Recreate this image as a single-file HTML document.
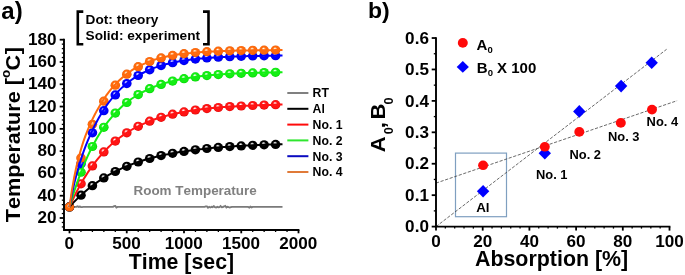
<!DOCTYPE html>
<html><head><meta charset="utf-8"><title>Figure</title>
<style>html,body{margin:0;padding:0;background:#fff}svg{display:block}text{font-family:"Liberation Sans",Arial,sans-serif;font-weight:bold;fill:#000;font-kerning:none}</style>
</head><body>
<svg width="685" height="275" viewBox="0 0 685 275">
<defs>
<radialGradient id="gorange" cx="0.5" cy="0.5" r="0.5" fx="0.42" fy="0.32"><stop offset="0" stop-color="#ffffff"/><stop offset="0.2" stop-color="#ffc890"/><stop offset="0.48" stop-color="#ff6a0d"/><stop offset="0.8" stop-color="#ff6a0d"/><stop offset="1" stop-color="#e85a00"/></radialGradient>
<radialGradient id="gblue" cx="0.5" cy="0.5" r="0.5" fx="0.42" fy="0.32"><stop offset="0" stop-color="#ffffff"/><stop offset="0.2" stop-color="#9a9aff"/><stop offset="0.48" stop-color="#0000ff"/><stop offset="0.8" stop-color="#0000ff"/><stop offset="1" stop-color="#0000d8"/></radialGradient>
<radialGradient id="ggreen" cx="0.5" cy="0.5" r="0.5" fx="0.42" fy="0.32"><stop offset="0" stop-color="#ffffff"/><stop offset="0.2" stop-color="#b4ffb4"/><stop offset="0.48" stop-color="#14ee14"/><stop offset="0.8" stop-color="#14ee14"/><stop offset="1" stop-color="#00d400"/></radialGradient>
<radialGradient id="gred" cx="0.5" cy="0.5" r="0.5" fx="0.42" fy="0.32"><stop offset="0" stop-color="#ffffff"/><stop offset="0.2" stop-color="#ffb0b0"/><stop offset="0.48" stop-color="#ff1414"/><stop offset="0.8" stop-color="#ff1414"/><stop offset="1" stop-color="#de0808"/></radialGradient>
<radialGradient id="gblack" cx="0.5" cy="0.5" r="0.5" fx="0.42" fy="0.32"><stop offset="0" stop-color="#ffffff"/><stop offset="0.2" stop-color="#b8b8b8"/><stop offset="0.48" stop-color="#000000"/><stop offset="0.8" stop-color="#000000"/><stop offset="1" stop-color="#000000"/></radialGradient>
</defs>
<rect width="685" height="275" fill="#fff"/>
<polyline fill="none" stroke="#7a7a7a" stroke-width="1.9" points="69.5,206.9 70.6,206.9 71.8,206.9 72.9,206.9 74.1,206.9 75.2,206.9 76.4,206.9 77.5,206.4 78.7,206.9 79.8,206.6 81.0,207.0 82.1,207.1 83.2,206.9 84.4,206.9 85.5,206.9 86.7,206.9 87.8,206.9 89.0,206.9 90.1,206.9 91.3,206.9 92.4,206.9 93.5,206.9 94.7,206.9 95.8,206.9 97.0,206.9 98.1,206.9 99.3,206.9 100.4,206.9 101.6,206.9 102.7,206.9 103.8,206.9 105.0,206.9 106.1,206.9 107.3,206.9 108.4,206.9 109.6,206.9 110.7,206.9 111.9,206.9 113.0,206.9 114.2,206.1 115.3,206.0 116.4,207.5 117.6,206.9 118.7,206.9 119.9,206.9 121.0,206.9 122.2,206.9 123.3,206.9 124.5,206.9 125.6,206.9 126.8,206.9 127.9,206.9 129.0,206.9 130.2,206.9 131.3,206.9 132.5,206.9 133.6,206.9 134.8,206.9 135.9,206.9 137.1,206.9 138.2,206.9 139.3,206.9 140.5,206.9 141.6,206.9 142.8,206.9 143.9,206.9 145.1,206.9 146.2,206.9 147.4,206.9 148.5,206.9 149.7,206.9 150.8,206.9 151.9,206.9 153.1,206.9 154.2,206.9 155.4,206.9 156.5,206.9 157.7,206.9 158.8,206.9 160.0,206.9 161.1,206.9 162.2,206.9 163.4,206.9 164.5,206.9 165.7,206.9 166.8,206.9 168.0,206.9 169.1,206.9 170.3,206.9 171.4,206.9 172.6,206.9 173.7,206.9 174.8,206.9 176.0,206.9 177.1,206.9 178.3,206.9 179.4,206.9 180.6,206.9 181.7,206.9 182.9,206.9 184.0,206.9 185.1,206.9 186.3,206.9 187.4,206.9 188.6,206.9 189.7,206.9 190.9,206.9 192.0,206.9 193.2,206.9 194.3,206.9 195.4,206.9 196.6,206.9 197.7,206.9 198.9,206.9 200.0,206.9 201.2,206.9 202.3,206.9 203.5,206.9 204.6,206.9 205.8,206.4 206.9,206.4 208.0,207.7 209.2,206.8 210.3,207.5 211.5,206.8 212.6,207.1 213.8,206.2 214.9,207.1 216.1,207.5 217.2,206.9 218.3,207.3 219.5,207.2 220.6,206.1 221.8,207.3 222.9,207.0 224.1,206.5 225.2,206.0 226.4,207.5 227.5,206.8 228.7,207.2 229.8,207.5 230.9,207.2 232.1,206.9 233.2,206.9 234.4,206.9 235.5,206.9 236.7,206.9 237.8,206.9 239.0,206.9 240.1,206.9 241.2,206.9 242.4,206.9 243.5,206.9 244.7,206.9 245.8,206.9 247.0,206.9 248.1,206.9 249.3,207.6 250.4,206.7 251.6,207.4 252.7,206.9 253.8,206.9 255.0,206.9 256.1,206.9 257.3,206.9 258.4,206.9 259.6,206.9 260.7,206.9 261.9,206.9 263.0,206.9 264.1,206.9 265.3,206.9 266.4,206.9 267.6,206.9 268.7,206.9 269.9,206.9 271.0,206.9 272.2,206.9 273.3,206.9 274.5,206.9 275.6,206.9 276.7,206.9 277.9,206.9 279.0,206.9 280.2,206.9 281.3,206.9 282.5,206.9"/>
<ellipse cx="69.5" cy="206.9" rx="4.8" ry="4.6" fill="url(#gblack)"/>
<ellipse cx="81.0" cy="195.2" rx="4.8" ry="4.6" fill="url(#gblack)"/>
<ellipse cx="92.4" cy="185.7" rx="4.8" ry="4.6" fill="url(#gblack)"/>
<ellipse cx="103.8" cy="177.9" rx="4.8" ry="4.6" fill="url(#gblack)"/>
<ellipse cx="115.3" cy="171.5" rx="4.8" ry="4.6" fill="url(#gblack)"/>
<ellipse cx="126.8" cy="166.3" rx="4.8" ry="4.6" fill="url(#gblack)"/>
<ellipse cx="138.2" cy="162.0" rx="4.8" ry="4.6" fill="url(#gblack)"/>
<ellipse cx="149.7" cy="158.5" rx="4.8" ry="4.6" fill="url(#gblack)"/>
<ellipse cx="161.1" cy="155.6" rx="4.8" ry="4.6" fill="url(#gblack)"/>
<ellipse cx="172.6" cy="153.3" rx="4.8" ry="4.6" fill="url(#gblack)"/>
<ellipse cx="184.0" cy="151.4" rx="4.8" ry="4.6" fill="url(#gblack)"/>
<ellipse cx="195.4" cy="149.8" rx="4.8" ry="4.6" fill="url(#gblack)"/>
<ellipse cx="206.9" cy="148.5" rx="4.8" ry="4.6" fill="url(#gblack)"/>
<ellipse cx="218.3" cy="147.4" rx="4.8" ry="4.6" fill="url(#gblack)"/>
<ellipse cx="229.8" cy="146.6" rx="4.8" ry="4.6" fill="url(#gblack)"/>
<ellipse cx="241.2" cy="145.9" rx="4.8" ry="4.6" fill="url(#gblack)"/>
<ellipse cx="252.7" cy="145.3" rx="4.8" ry="4.6" fill="url(#gblack)"/>
<ellipse cx="264.1" cy="144.8" rx="4.8" ry="4.6" fill="url(#gblack)"/>
<ellipse cx="275.6" cy="144.4" rx="4.8" ry="4.6" fill="url(#gblack)"/>
<ellipse cx="69.5" cy="206.9" rx="4.8" ry="4.6" fill="url(#gred)"/>
<ellipse cx="81.0" cy="183.8" rx="4.8" ry="4.6" fill="url(#gred)"/>
<ellipse cx="92.4" cy="165.9" rx="4.8" ry="4.6" fill="url(#gred)"/>
<ellipse cx="103.8" cy="151.9" rx="4.8" ry="4.6" fill="url(#gred)"/>
<ellipse cx="115.3" cy="141.1" rx="4.8" ry="4.6" fill="url(#gred)"/>
<ellipse cx="126.8" cy="132.8" rx="4.8" ry="4.6" fill="url(#gred)"/>
<ellipse cx="138.2" cy="126.3" rx="4.8" ry="4.6" fill="url(#gred)"/>
<ellipse cx="149.7" cy="121.2" rx="4.8" ry="4.6" fill="url(#gred)"/>
<ellipse cx="161.1" cy="117.3" rx="4.8" ry="4.6" fill="url(#gred)"/>
<ellipse cx="172.6" cy="114.2" rx="4.8" ry="4.6" fill="url(#gred)"/>
<ellipse cx="184.0" cy="111.9" rx="4.8" ry="4.6" fill="url(#gred)"/>
<ellipse cx="195.4" cy="110.0" rx="4.8" ry="4.6" fill="url(#gred)"/>
<ellipse cx="206.9" cy="108.6" rx="4.8" ry="4.6" fill="url(#gred)"/>
<ellipse cx="218.3" cy="107.5" rx="4.8" ry="4.6" fill="url(#gred)"/>
<ellipse cx="229.8" cy="106.6" rx="4.8" ry="4.6" fill="url(#gred)"/>
<ellipse cx="241.2" cy="106.0" rx="4.8" ry="4.6" fill="url(#gred)"/>
<ellipse cx="252.7" cy="105.5" rx="4.8" ry="4.6" fill="url(#gred)"/>
<ellipse cx="264.1" cy="105.1" rx="4.8" ry="4.6" fill="url(#gred)"/>
<ellipse cx="275.6" cy="104.7" rx="4.8" ry="4.6" fill="url(#gred)"/>
<ellipse cx="69.5" cy="206.9" rx="4.8" ry="4.6" fill="url(#ggreen)"/>
<ellipse cx="81.0" cy="172.2" rx="4.8" ry="4.6" fill="url(#ggreen)"/>
<ellipse cx="92.4" cy="146.5" rx="4.8" ry="4.6" fill="url(#ggreen)"/>
<ellipse cx="103.8" cy="127.3" rx="4.8" ry="4.6" fill="url(#ggreen)"/>
<ellipse cx="115.3" cy="113.1" rx="4.8" ry="4.6" fill="url(#ggreen)"/>
<ellipse cx="126.8" cy="102.5" rx="4.8" ry="4.6" fill="url(#ggreen)"/>
<ellipse cx="138.2" cy="94.6" rx="4.8" ry="4.6" fill="url(#ggreen)"/>
<ellipse cx="149.7" cy="88.7" rx="4.8" ry="4.6" fill="url(#ggreen)"/>
<ellipse cx="161.1" cy="84.4" rx="4.8" ry="4.6" fill="url(#ggreen)"/>
<ellipse cx="172.6" cy="81.1" rx="4.8" ry="4.6" fill="url(#ggreen)"/>
<ellipse cx="184.0" cy="78.7" rx="4.8" ry="4.6" fill="url(#ggreen)"/>
<ellipse cx="195.4" cy="76.9" rx="4.8" ry="4.6" fill="url(#ggreen)"/>
<ellipse cx="206.9" cy="75.6" rx="4.8" ry="4.6" fill="url(#ggreen)"/>
<ellipse cx="218.3" cy="74.6" rx="4.8" ry="4.6" fill="url(#ggreen)"/>
<ellipse cx="229.8" cy="73.8" rx="4.8" ry="4.6" fill="url(#ggreen)"/>
<ellipse cx="241.2" cy="73.3" rx="4.8" ry="4.6" fill="url(#ggreen)"/>
<ellipse cx="252.7" cy="72.9" rx="4.8" ry="4.6" fill="url(#ggreen)"/>
<ellipse cx="264.1" cy="72.6" rx="4.8" ry="4.6" fill="url(#ggreen)"/>
<ellipse cx="275.6" cy="72.3" rx="4.8" ry="4.6" fill="url(#ggreen)"/>
<ellipse cx="69.5" cy="206.9" rx="4.8" ry="4.6" fill="url(#gblue)"/>
<ellipse cx="81.0" cy="163.7" rx="4.8" ry="4.6" fill="url(#gblue)"/>
<ellipse cx="92.4" cy="132.8" rx="4.8" ry="4.6" fill="url(#gblue)"/>
<ellipse cx="103.8" cy="110.7" rx="4.8" ry="4.6" fill="url(#gblue)"/>
<ellipse cx="115.3" cy="94.9" rx="4.8" ry="4.6" fill="url(#gblue)"/>
<ellipse cx="126.8" cy="83.6" rx="4.8" ry="4.6" fill="url(#gblue)"/>
<ellipse cx="138.2" cy="75.5" rx="4.8" ry="4.6" fill="url(#gblue)"/>
<ellipse cx="149.7" cy="69.8" rx="4.8" ry="4.6" fill="url(#gblue)"/>
<ellipse cx="161.1" cy="65.6" rx="4.8" ry="4.6" fill="url(#gblue)"/>
<ellipse cx="172.6" cy="62.7" rx="4.8" ry="4.6" fill="url(#gblue)"/>
<ellipse cx="184.0" cy="60.6" rx="4.8" ry="4.6" fill="url(#gblue)"/>
<ellipse cx="195.4" cy="59.1" rx="4.8" ry="4.6" fill="url(#gblue)"/>
<ellipse cx="206.9" cy="58.0" rx="4.8" ry="4.6" fill="url(#gblue)"/>
<ellipse cx="218.3" cy="57.2" rx="4.8" ry="4.6" fill="url(#gblue)"/>
<ellipse cx="229.8" cy="56.7" rx="4.8" ry="4.6" fill="url(#gblue)"/>
<ellipse cx="241.2" cy="56.3" rx="4.8" ry="4.6" fill="url(#gblue)"/>
<ellipse cx="252.7" cy="56.0" rx="4.8" ry="4.6" fill="url(#gblue)"/>
<ellipse cx="264.1" cy="55.8" rx="4.8" ry="4.6" fill="url(#gblue)"/>
<ellipse cx="275.6" cy="55.7" rx="4.8" ry="4.6" fill="url(#gblue)"/>
<ellipse cx="69.5" cy="206.9" rx="4.8" ry="4.6" fill="url(#gorange)"/>
<ellipse cx="81.0" cy="158.0" rx="4.8" ry="4.6" fill="url(#gorange)"/>
<ellipse cx="92.4" cy="124.3" rx="4.8" ry="4.6" fill="url(#gorange)"/>
<ellipse cx="103.8" cy="101.2" rx="4.8" ry="4.6" fill="url(#gorange)"/>
<ellipse cx="115.3" cy="85.2" rx="4.8" ry="4.6" fill="url(#gorange)"/>
<ellipse cx="126.8" cy="74.2" rx="4.8" ry="4.6" fill="url(#gorange)"/>
<ellipse cx="138.2" cy="66.7" rx="4.8" ry="4.6" fill="url(#gorange)"/>
<ellipse cx="149.7" cy="61.5" rx="4.8" ry="4.6" fill="url(#gorange)"/>
<ellipse cx="161.1" cy="57.9" rx="4.8" ry="4.6" fill="url(#gorange)"/>
<ellipse cx="172.6" cy="55.4" rx="4.8" ry="4.6" fill="url(#gorange)"/>
<ellipse cx="184.0" cy="53.7" rx="4.8" ry="4.6" fill="url(#gorange)"/>
<ellipse cx="195.4" cy="52.5" rx="4.8" ry="4.6" fill="url(#gorange)"/>
<ellipse cx="206.9" cy="51.7" rx="4.8" ry="4.6" fill="url(#gorange)"/>
<ellipse cx="218.3" cy="51.2" rx="4.8" ry="4.6" fill="url(#gorange)"/>
<ellipse cx="229.8" cy="50.8" rx="4.8" ry="4.6" fill="url(#gorange)"/>
<ellipse cx="241.2" cy="50.5" rx="4.8" ry="4.6" fill="url(#gorange)"/>
<ellipse cx="252.7" cy="50.3" rx="4.8" ry="4.6" fill="url(#gorange)"/>
<ellipse cx="264.1" cy="50.2" rx="4.8" ry="4.6" fill="url(#gorange)"/>
<ellipse cx="275.6" cy="50.1" rx="4.8" ry="4.6" fill="url(#gorange)"/>
<polyline fill="none" stroke="#000000" stroke-width="2" stroke-linejoin="round" points="69.5,206.9 71.8,204.3 74.1,201.9 76.4,199.6 78.7,197.4 81.0,195.2 83.2,193.2 85.5,191.2 87.8,189.3 90.1,187.5 92.4,185.7 94.7,184.0 97.0,182.4 99.3,180.8 101.6,179.3 103.8,177.9 106.1,176.5 108.4,175.2 110.7,173.9 113.0,172.7 115.3,171.5 117.6,170.4 119.9,169.3 122.2,168.2 124.5,167.2 126.8,166.3 129.0,165.4 131.3,164.5 133.6,163.6 135.9,162.8 138.2,162.0 140.5,161.2 142.8,160.5 145.1,159.8 147.4,159.1 149.7,158.5 151.9,157.9 154.2,157.3 156.5,156.7 158.8,156.2 161.1,155.6 163.4,155.1 165.7,154.6 168.0,154.2 170.3,153.7 172.6,153.3 174.8,152.9 177.1,152.5 179.4,152.1 181.7,151.7 184.0,151.4 186.3,151.0 188.6,150.7 190.9,150.4 193.2,150.1 195.4,149.8 197.7,149.5 200.0,149.2 202.3,149.0 204.6,148.7 206.9,148.5 209.2,148.3 211.5,148.0 213.8,147.8 216.1,147.6 218.3,147.4 220.6,147.2 222.9,147.1 225.2,146.9 227.5,146.7 229.8,146.6 232.1,146.4 234.4,146.3 236.7,146.1 239.0,146.0 241.2,145.9 243.5,145.7 245.8,145.6 248.1,145.5 250.4,145.4 252.7,145.3 255.0,145.2 257.3,145.1 259.6,145.0 261.9,144.9 264.1,144.8 266.4,144.7 268.7,144.6 271.0,144.6 273.3,144.5 275.6,144.4 277.9,144.4 280.2,144.3 282.5,144.2"/>
<polyline fill="none" stroke="#ff1414" stroke-width="2" stroke-linejoin="round" points="69.5,206.9 71.8,201.8 74.1,196.9 76.4,192.3 78.7,187.9 81.0,183.8 83.2,179.8 85.5,176.1 87.8,172.5 90.1,169.1 92.4,165.9 94.7,162.8 97.0,159.9 99.3,157.1 101.6,154.5 103.8,151.9 106.1,149.6 108.4,147.3 110.7,145.1 113.0,143.1 115.3,141.1 117.6,139.3 119.9,137.5 122.2,135.9 124.5,134.3 126.8,132.8 129.0,131.3 131.3,130.0 133.6,128.7 135.9,127.4 138.2,126.3 140.5,125.1 142.8,124.1 145.1,123.1 147.4,122.1 149.7,121.2 151.9,120.3 154.2,119.5 156.5,118.7 158.8,118.0 161.1,117.3 163.4,116.6 165.7,116.0 168.0,115.4 170.3,114.8 172.6,114.2 174.8,113.7 177.1,113.2 179.4,112.7 181.7,112.3 184.0,111.9 186.3,111.5 188.6,111.1 190.9,110.7 193.2,110.4 195.4,110.0 197.7,109.7 200.0,109.4 202.3,109.1 204.6,108.9 206.9,108.6 209.2,108.4 211.5,108.1 213.8,107.9 216.1,107.7 218.3,107.5 220.6,107.3 222.9,107.1 225.2,107.0 227.5,106.8 229.8,106.6 232.1,106.5 234.4,106.4 236.7,106.2 239.0,106.1 241.2,106.0 243.5,105.9 245.8,105.8 248.1,105.7 250.4,105.6 252.7,105.5 255.0,105.4 257.3,105.3 259.6,105.2 261.9,105.1 264.1,105.1 266.4,105.0 268.7,104.9 271.0,104.9 273.3,104.8 275.6,104.7 277.9,104.7 280.2,104.6 282.5,104.6"/>
<polyline fill="none" stroke="#14ee14" stroke-width="2" stroke-linejoin="round" points="69.5,206.9 71.8,199.1 74.1,191.8 76.4,184.9 78.7,178.4 81.0,172.2 83.2,166.5 85.5,161.0 87.8,155.9 90.1,151.0 92.4,146.5 94.7,142.2 97.0,138.1 99.3,134.3 101.6,130.7 103.8,127.3 106.1,124.1 108.4,121.1 110.7,118.3 113.0,115.6 115.3,113.1 117.6,110.7 119.9,108.5 122.2,106.3 124.5,104.3 126.8,102.5 129.0,100.7 131.3,99.0 133.6,97.5 135.9,96.0 138.2,94.6 140.5,93.3 142.8,92.0 145.1,90.9 147.4,89.8 149.7,88.7 151.9,87.7 154.2,86.8 156.5,85.9 158.8,85.1 161.1,84.4 163.4,83.6 165.7,82.9 168.0,82.3 170.3,81.7 172.6,81.1 174.8,80.6 177.1,80.1 179.4,79.6 181.7,79.1 184.0,78.7 186.3,78.3 188.6,77.9 190.9,77.6 193.2,77.2 195.4,76.9 197.7,76.6 200.0,76.3 202.3,76.0 204.6,75.8 206.9,75.6 209.2,75.3 211.5,75.1 213.8,74.9 216.1,74.7 218.3,74.6 220.6,74.4 222.9,74.2 225.2,74.1 227.5,74.0 229.8,73.8 232.1,73.7 234.4,73.6 236.7,73.5 239.0,73.4 241.2,73.3 243.5,73.2 245.8,73.1 248.1,73.0 250.4,72.9 252.7,72.9 255.0,72.8 257.3,72.7 259.6,72.7 261.9,72.6 264.1,72.6 266.4,72.5 268.7,72.5 271.0,72.4 273.3,72.4 275.6,72.3 277.9,72.3 280.2,72.3 282.5,72.2"/>
<polyline fill="none" stroke="#0000ff" stroke-width="2" stroke-linejoin="round" points="69.5,206.9 71.8,194.7 74.1,184.1 76.4,174.9 78.7,166.7 81.0,159.3 83.2,152.6 85.5,146.4 87.8,140.6 90.1,135.3 92.4,130.3 94.7,125.6 97.0,121.2 99.3,117.1 101.6,113.2 103.8,109.6 106.1,106.2 108.4,103.0 110.7,100.0 113.0,97.1 115.3,94.5 117.6,92.0 119.9,89.6 122.2,87.4 124.5,85.4 126.8,83.5 129.0,81.6 131.3,80.0 133.6,78.4 135.9,76.9 138.2,75.5 140.5,74.2 142.8,73.0 145.1,71.8 147.4,70.7 149.7,69.7 151.9,68.8 154.2,67.9 156.5,67.1 158.8,66.4 161.1,65.6 163.4,65.0 165.7,64.3 168.0,63.8 170.3,63.2 172.6,62.7 174.8,62.2 177.1,61.8 179.4,61.3 181.7,61.0 184.0,60.6 186.3,60.2 188.6,59.9 190.9,59.6 193.2,59.3 195.4,59.1 197.7,58.8 200.0,58.6 202.3,58.4 204.6,58.2 206.9,58.0 209.2,57.8 211.5,57.7 213.8,57.5 216.1,57.4 218.3,57.2 220.6,57.1 222.9,57.0 225.2,56.9 227.5,56.8 229.8,56.7 232.1,56.6 234.4,56.5 236.7,56.4 239.0,56.4 241.2,56.3 243.5,56.2 245.8,56.2 248.1,56.1 250.4,56.1 252.7,56.0 255.0,56.0 257.3,55.9 259.6,55.9 261.9,55.8 264.1,55.8 266.4,55.8 268.7,55.7 271.0,55.7 273.3,55.7 275.6,55.7 277.9,55.6 280.2,55.6 282.5,55.6"/>
<polyline fill="none" stroke="#ff6a0d" stroke-width="2" stroke-linejoin="round" points="69.5,206.9 71.8,190.9 74.1,177.8 76.4,166.8 78.7,157.4 81.0,149.3 83.2,142.1 85.5,135.6 87.8,129.8 90.1,124.4 92.4,119.4 94.7,114.7 97.0,110.4 99.3,106.4 101.6,102.6 103.8,99.0 106.1,95.7 108.4,92.6 110.7,89.7 113.0,87.0 115.3,84.4 117.6,82.0 119.9,79.8 122.2,77.7 124.5,75.8 126.8,73.9 129.0,72.3 131.3,70.7 133.6,69.2 135.9,67.8 138.2,66.6 140.5,65.4 142.8,64.3 145.1,63.3 147.4,62.3 149.7,61.4 151.9,60.6 154.2,59.8 156.5,59.1 158.8,58.5 161.1,57.9 163.4,57.3 165.7,56.8 168.0,56.3 170.3,55.8 172.6,55.4 174.8,55.0 177.1,54.6 179.4,54.3 181.7,54.0 184.0,53.7 186.3,53.4 188.6,53.2 190.9,53.0 193.2,52.7 195.4,52.5 197.7,52.4 200.0,52.2 202.3,52.0 204.6,51.9 206.9,51.7 209.2,51.6 211.5,51.5 213.8,51.4 216.1,51.3 218.3,51.2 220.6,51.1 222.9,51.0 225.2,50.9 227.5,50.9 229.8,50.8 232.1,50.7 234.4,50.7 236.7,50.6 239.0,50.6 241.2,50.5 243.5,50.5 245.8,50.4 248.1,50.4 250.4,50.4 252.7,50.3 255.0,50.3 257.3,50.3 259.6,50.3 261.9,50.2 264.1,50.2 266.4,50.2 268.7,50.2 271.0,50.2 273.3,50.2 275.6,50.1 277.9,50.1 280.2,50.1 282.5,50.1"/>
<path d="M64.0,38.7 V230.0 H299.4" fill="none" stroke="#000" stroke-width="1.9"/>
<line x1="59.7" y1="218.00" x2="64.0" y2="218.00" stroke="#000" stroke-width="1.8"/>
<line x1="61.8" y1="213.54" x2="64.0" y2="213.54" stroke="#000" stroke-width="1.3"/>
<line x1="61.8" y1="209.08" x2="64.0" y2="209.08" stroke="#000" stroke-width="1.3"/>
<line x1="61.8" y1="204.63" x2="64.0" y2="204.63" stroke="#000" stroke-width="1.3"/>
<line x1="61.8" y1="200.17" x2="64.0" y2="200.17" stroke="#000" stroke-width="1.3"/>
<line x1="59.7" y1="195.71" x2="64.0" y2="195.71" stroke="#000" stroke-width="1.8"/>
<line x1="61.8" y1="191.25" x2="64.0" y2="191.25" stroke="#000" stroke-width="1.3"/>
<line x1="61.8" y1="186.80" x2="64.0" y2="186.80" stroke="#000" stroke-width="1.3"/>
<line x1="61.8" y1="182.34" x2="64.0" y2="182.34" stroke="#000" stroke-width="1.3"/>
<line x1="61.8" y1="177.88" x2="64.0" y2="177.88" stroke="#000" stroke-width="1.3"/>
<line x1="59.7" y1="173.42" x2="64.0" y2="173.42" stroke="#000" stroke-width="1.8"/>
<line x1="61.8" y1="168.97" x2="64.0" y2="168.97" stroke="#000" stroke-width="1.3"/>
<line x1="61.8" y1="164.51" x2="64.0" y2="164.51" stroke="#000" stroke-width="1.3"/>
<line x1="61.8" y1="160.05" x2="64.0" y2="160.05" stroke="#000" stroke-width="1.3"/>
<line x1="61.8" y1="155.59" x2="64.0" y2="155.59" stroke="#000" stroke-width="1.3"/>
<line x1="59.7" y1="151.14" x2="64.0" y2="151.14" stroke="#000" stroke-width="1.8"/>
<line x1="61.8" y1="146.68" x2="64.0" y2="146.68" stroke="#000" stroke-width="1.3"/>
<line x1="61.8" y1="142.22" x2="64.0" y2="142.22" stroke="#000" stroke-width="1.3"/>
<line x1="61.8" y1="137.76" x2="64.0" y2="137.76" stroke="#000" stroke-width="1.3"/>
<line x1="61.8" y1="133.31" x2="64.0" y2="133.31" stroke="#000" stroke-width="1.3"/>
<line x1="59.7" y1="128.85" x2="64.0" y2="128.85" stroke="#000" stroke-width="1.8"/>
<line x1="61.8" y1="124.39" x2="64.0" y2="124.39" stroke="#000" stroke-width="1.3"/>
<line x1="61.8" y1="119.93" x2="64.0" y2="119.93" stroke="#000" stroke-width="1.3"/>
<line x1="61.8" y1="115.48" x2="64.0" y2="115.48" stroke="#000" stroke-width="1.3"/>
<line x1="61.8" y1="111.02" x2="64.0" y2="111.02" stroke="#000" stroke-width="1.3"/>
<line x1="59.7" y1="106.56" x2="64.0" y2="106.56" stroke="#000" stroke-width="1.8"/>
<line x1="61.8" y1="102.10" x2="64.0" y2="102.10" stroke="#000" stroke-width="1.3"/>
<line x1="61.8" y1="97.64" x2="64.0" y2="97.64" stroke="#000" stroke-width="1.3"/>
<line x1="61.8" y1="93.19" x2="64.0" y2="93.19" stroke="#000" stroke-width="1.3"/>
<line x1="61.8" y1="88.73" x2="64.0" y2="88.73" stroke="#000" stroke-width="1.3"/>
<line x1="59.7" y1="84.27" x2="64.0" y2="84.27" stroke="#000" stroke-width="1.8"/>
<line x1="61.8" y1="79.81" x2="64.0" y2="79.81" stroke="#000" stroke-width="1.3"/>
<line x1="61.8" y1="75.36" x2="64.0" y2="75.36" stroke="#000" stroke-width="1.3"/>
<line x1="61.8" y1="70.90" x2="64.0" y2="70.90" stroke="#000" stroke-width="1.3"/>
<line x1="61.8" y1="66.44" x2="64.0" y2="66.44" stroke="#000" stroke-width="1.3"/>
<line x1="59.7" y1="61.98" x2="64.0" y2="61.98" stroke="#000" stroke-width="1.8"/>
<line x1="61.8" y1="57.53" x2="64.0" y2="57.53" stroke="#000" stroke-width="1.3"/>
<line x1="61.8" y1="53.07" x2="64.0" y2="53.07" stroke="#000" stroke-width="1.3"/>
<line x1="61.8" y1="48.61" x2="64.0" y2="48.61" stroke="#000" stroke-width="1.3"/>
<line x1="61.8" y1="44.15" x2="64.0" y2="44.15" stroke="#000" stroke-width="1.3"/>
<line x1="59.7" y1="39.70" x2="64.0" y2="39.70" stroke="#000" stroke-width="1.8"/>
<line x1="61.8" y1="226.92" x2="64.0" y2="226.92" stroke="#000" stroke-width="1.3"/>
<line x1="61.8" y1="222.46" x2="64.0" y2="222.46" stroke="#000" stroke-width="1.3"/>
<line x1="69.50" y1="230.0" x2="69.50" y2="233.3" stroke="#000" stroke-width="1.8"/>
<line x1="80.95" y1="230.0" x2="80.95" y2="232.0" stroke="#000" stroke-width="1.3"/>
<line x1="92.40" y1="230.0" x2="92.40" y2="232.0" stroke="#000" stroke-width="1.3"/>
<line x1="103.85" y1="230.0" x2="103.85" y2="232.0" stroke="#000" stroke-width="1.3"/>
<line x1="115.30" y1="230.0" x2="115.30" y2="232.0" stroke="#000" stroke-width="1.3"/>
<line x1="126.75" y1="230.0" x2="126.75" y2="233.3" stroke="#000" stroke-width="1.8"/>
<line x1="138.20" y1="230.0" x2="138.20" y2="232.0" stroke="#000" stroke-width="1.3"/>
<line x1="149.65" y1="230.0" x2="149.65" y2="232.0" stroke="#000" stroke-width="1.3"/>
<line x1="161.10" y1="230.0" x2="161.10" y2="232.0" stroke="#000" stroke-width="1.3"/>
<line x1="172.55" y1="230.0" x2="172.55" y2="232.0" stroke="#000" stroke-width="1.3"/>
<line x1="184.00" y1="230.0" x2="184.00" y2="233.3" stroke="#000" stroke-width="1.8"/>
<line x1="195.45" y1="230.0" x2="195.45" y2="232.0" stroke="#000" stroke-width="1.3"/>
<line x1="206.90" y1="230.0" x2="206.90" y2="232.0" stroke="#000" stroke-width="1.3"/>
<line x1="218.35" y1="230.0" x2="218.35" y2="232.0" stroke="#000" stroke-width="1.3"/>
<line x1="229.80" y1="230.0" x2="229.80" y2="232.0" stroke="#000" stroke-width="1.3"/>
<line x1="241.25" y1="230.0" x2="241.25" y2="233.3" stroke="#000" stroke-width="1.8"/>
<line x1="252.70" y1="230.0" x2="252.70" y2="232.0" stroke="#000" stroke-width="1.3"/>
<line x1="264.15" y1="230.0" x2="264.15" y2="232.0" stroke="#000" stroke-width="1.3"/>
<line x1="275.60" y1="230.0" x2="275.60" y2="232.0" stroke="#000" stroke-width="1.3"/>
<line x1="287.05" y1="230.0" x2="287.05" y2="232.0" stroke="#000" stroke-width="1.3"/>
<line x1="298.50" y1="230.0" x2="298.50" y2="233.3" stroke="#000" stroke-width="1.8"/>
<text transform="translate(56.50,223.00) scale(1.07,1)" font-size="16" text-anchor="end">20</text>
<text transform="translate(56.50,200.71) scale(1.07,1)" font-size="16" text-anchor="end">40</text>
<text transform="translate(56.50,178.42) scale(1.07,1)" font-size="16" text-anchor="end">60</text>
<text transform="translate(56.50,156.14) scale(1.07,1)" font-size="16" text-anchor="end">80</text>
<text transform="translate(56.50,133.85) scale(1.07,1)" font-size="16" text-anchor="end">100</text>
<text transform="translate(56.50,111.56) scale(1.07,1)" font-size="16" text-anchor="end">120</text>
<text transform="translate(56.50,89.27) scale(1.07,1)" font-size="16" text-anchor="end">140</text>
<text transform="translate(56.50,66.98) scale(1.07,1)" font-size="16" text-anchor="end">160</text>
<text transform="translate(56.50,44.70) scale(1.07,1)" font-size="16" text-anchor="end">180</text>
<text transform="translate(69.20,248.80) scale(1.07,1)" font-size="16" text-anchor="middle">0</text>
<text transform="translate(126.45,248.80) scale(1.07,1)" font-size="16" text-anchor="middle">500</text>
<text transform="translate(183.70,248.80) scale(1.07,1)" font-size="16" text-anchor="middle">1000</text>
<text transform="translate(240.95,248.80) scale(1.07,1)" font-size="16" text-anchor="middle">1500</text>
<text transform="translate(298.20,248.80) scale(1.07,1)" font-size="16" text-anchor="middle">2000</text>
<text transform="translate(181.40,269.10) scale(1.0,1)" font-size="21.3" text-anchor="middle">Time [sec]</text>
<text transform="translate(19.5,134.6) rotate(-90) scale(1.05,1)" font-size="20.6" text-anchor="middle">Temperature [<tspan font-size="12.8" dy="-9.2">o</tspan><tspan dy="9.2" dx="-0.7">C</tspan><tspan dx="0.8">]</tspan></text>
<text transform="translate(1.30,19.00) scale(1.03,1)" font-size="23.3" text-anchor="start">a)</text>
<text transform="translate(85.60,23.60) scale(1.0,1)" font-size="13.65" text-anchor="start">Dot: theory</text>
<text transform="translate(85.60,40.10) scale(1.0,1)" font-size="13.65" text-anchor="start">Solid: experiment</text>
<path d="M83.3,11.6 H77.8 V44.2 H83.3" fill="none" stroke="#000" stroke-width="2.6"/>
<path d="M203,11.6 H208.5 V44.2 H203" fill="none" stroke="#000" stroke-width="2.6"/>
<text transform="translate(133.50,195.20) scale(1.0,1)" font-size="13.45" text-anchor="start" style="fill:#808080">Room Temperature</text>
<line x1="287.3" y1="93.0" x2="308.4" y2="93.0" stroke="#808080" stroke-width="2"/>
<text transform="translate(312.60,97.45) scale(1.0,1)" font-size="12.25" text-anchor="start">RT</text>
<line x1="287.3" y1="108.8" x2="308.4" y2="108.8" stroke="#000" stroke-width="2"/>
<text transform="translate(312.60,113.25) scale(1.0,1)" font-size="12.25" text-anchor="start">Al</text>
<line x1="287.3" y1="124.6" x2="308.4" y2="124.6" stroke="#ff0a0a" stroke-width="2"/>
<text transform="translate(312.60,129.05) scale(1.0,1)" font-size="12.25" text-anchor="start">No. 1</text>
<line x1="287.3" y1="140.4" x2="308.4" y2="140.4" stroke="#2fe62f" stroke-width="2"/>
<text transform="translate(312.60,144.85) scale(1.0,1)" font-size="12.25" text-anchor="start">No. 2</text>
<line x1="287.3" y1="156.2" x2="308.4" y2="156.2" stroke="#0a0ac0" stroke-width="2"/>
<text transform="translate(312.60,160.65) scale(1.0,1)" font-size="12.25" text-anchor="start">No. 3</text>
<line x1="287.3" y1="172.0" x2="308.4" y2="172.0" stroke="#e07a38" stroke-width="2"/>
<text transform="translate(312.60,176.45) scale(1.0,1)" font-size="12.25" text-anchor="start">No. 4</text>
<rect x="455.5" y="153.1" width="51" height="63.6" fill="none" stroke="#7f9fc0" stroke-width="1.2"/>
<line x1="436.0" y1="226.6" x2="666.6" y2="49.3" stroke="#444" stroke-width="0.8" stroke-dasharray="3.2,1.6"/>
<line x1="436.0" y1="183.1" x2="677.1" y2="100.7" stroke="#444" stroke-width="0.8" stroke-dasharray="3.2,1.6"/>
<polygon points="476.9,191.3 483.1,185.0 489.3,191.3 483.1,197.6" fill="#0000ff"/>
<polygon points="538.6,153.2 544.8,146.9 551.0,153.2 544.8,159.5" fill="#0000ff"/>
<polygon points="573.1,111.4 579.3,105.1 585.5,111.4 579.3,117.7" fill="#0000ff"/>
<polygon points="614.9,86.1 621.1,79.8 627.3,86.1 621.1,92.4" fill="#0000ff"/>
<polygon points="645.5,62.8 651.7,56.5 657.9,62.8 651.7,69.1" fill="#0000ff"/>
<ellipse cx="483.1" cy="165.3" rx="5.0" ry="4.8" fill="#ff0a0a"/>
<ellipse cx="544.8" cy="146.8" rx="5.0" ry="4.8" fill="#ff0a0a"/>
<ellipse cx="579.3" cy="131.9" rx="5.0" ry="4.8" fill="#ff0a0a"/>
<ellipse cx="620.8" cy="122.9" rx="5.0" ry="4.8" fill="#ff0a0a"/>
<ellipse cx="652.0" cy="109.6" rx="5.0" ry="4.8" fill="#ff0a0a"/>
<path d="M436.0,37.2 V226.6 H670.4" fill="none" stroke="#000" stroke-width="1.9"/>
<line x1="431.7" y1="226.60" x2="436.0" y2="226.60" stroke="#000" stroke-width="1.8"/>
<line x1="433.8" y1="210.88" x2="436.0" y2="210.88" stroke="#000" stroke-width="1.3"/>
<line x1="431.7" y1="195.17" x2="436.0" y2="195.17" stroke="#000" stroke-width="1.8"/>
<line x1="433.8" y1="179.45" x2="436.0" y2="179.45" stroke="#000" stroke-width="1.3"/>
<line x1="431.7" y1="163.74" x2="436.0" y2="163.74" stroke="#000" stroke-width="1.8"/>
<line x1="433.8" y1="148.02" x2="436.0" y2="148.02" stroke="#000" stroke-width="1.3"/>
<line x1="431.7" y1="132.31" x2="436.0" y2="132.31" stroke="#000" stroke-width="1.8"/>
<line x1="433.8" y1="116.59" x2="436.0" y2="116.59" stroke="#000" stroke-width="1.3"/>
<line x1="431.7" y1="100.88" x2="436.0" y2="100.88" stroke="#000" stroke-width="1.8"/>
<line x1="433.8" y1="85.16" x2="436.0" y2="85.16" stroke="#000" stroke-width="1.3"/>
<line x1="431.7" y1="69.45" x2="436.0" y2="69.45" stroke="#000" stroke-width="1.8"/>
<line x1="433.8" y1="53.73" x2="436.0" y2="53.73" stroke="#000" stroke-width="1.3"/>
<line x1="431.7" y1="38.02" x2="436.0" y2="38.02" stroke="#000" stroke-width="1.8"/>
<line x1="436.00" y1="226.6" x2="436.00" y2="230.6" stroke="#000" stroke-width="1.8"/>
<line x1="445.34" y1="226.6" x2="445.34" y2="228.6" stroke="#000" stroke-width="1.3"/>
<line x1="454.68" y1="226.6" x2="454.68" y2="228.6" stroke="#000" stroke-width="1.3"/>
<line x1="464.02" y1="226.6" x2="464.02" y2="228.6" stroke="#000" stroke-width="1.3"/>
<line x1="473.36" y1="226.6" x2="473.36" y2="228.6" stroke="#000" stroke-width="1.3"/>
<line x1="482.70" y1="226.6" x2="482.70" y2="230.6" stroke="#000" stroke-width="1.8"/>
<line x1="492.04" y1="226.6" x2="492.04" y2="228.6" stroke="#000" stroke-width="1.3"/>
<line x1="501.38" y1="226.6" x2="501.38" y2="228.6" stroke="#000" stroke-width="1.3"/>
<line x1="510.72" y1="226.6" x2="510.72" y2="228.6" stroke="#000" stroke-width="1.3"/>
<line x1="520.06" y1="226.6" x2="520.06" y2="228.6" stroke="#000" stroke-width="1.3"/>
<line x1="529.40" y1="226.6" x2="529.40" y2="230.6" stroke="#000" stroke-width="1.8"/>
<line x1="538.74" y1="226.6" x2="538.74" y2="228.6" stroke="#000" stroke-width="1.3"/>
<line x1="548.08" y1="226.6" x2="548.08" y2="228.6" stroke="#000" stroke-width="1.3"/>
<line x1="557.42" y1="226.6" x2="557.42" y2="228.6" stroke="#000" stroke-width="1.3"/>
<line x1="566.76" y1="226.6" x2="566.76" y2="228.6" stroke="#000" stroke-width="1.3"/>
<line x1="576.10" y1="226.6" x2="576.10" y2="230.6" stroke="#000" stroke-width="1.8"/>
<line x1="585.44" y1="226.6" x2="585.44" y2="228.6" stroke="#000" stroke-width="1.3"/>
<line x1="594.78" y1="226.6" x2="594.78" y2="228.6" stroke="#000" stroke-width="1.3"/>
<line x1="604.12" y1="226.6" x2="604.12" y2="228.6" stroke="#000" stroke-width="1.3"/>
<line x1="613.46" y1="226.6" x2="613.46" y2="228.6" stroke="#000" stroke-width="1.3"/>
<line x1="622.80" y1="226.6" x2="622.80" y2="230.6" stroke="#000" stroke-width="1.8"/>
<line x1="632.14" y1="226.6" x2="632.14" y2="228.6" stroke="#000" stroke-width="1.3"/>
<line x1="641.48" y1="226.6" x2="641.48" y2="228.6" stroke="#000" stroke-width="1.3"/>
<line x1="650.82" y1="226.6" x2="650.82" y2="228.6" stroke="#000" stroke-width="1.3"/>
<line x1="660.16" y1="226.6" x2="660.16" y2="228.6" stroke="#000" stroke-width="1.3"/>
<line x1="669.50" y1="226.6" x2="669.50" y2="230.6" stroke="#000" stroke-width="1.8"/>
<text transform="translate(428.90,232.30) scale(1.07,1)" font-size="16" text-anchor="end">0.0</text>
<text transform="translate(428.90,200.87) scale(1.07,1)" font-size="16" text-anchor="end">0.1</text>
<text transform="translate(428.90,169.44) scale(1.07,1)" font-size="16" text-anchor="end">0.2</text>
<text transform="translate(428.90,138.01) scale(1.07,1)" font-size="16" text-anchor="end">0.3</text>
<text transform="translate(428.90,106.58) scale(1.07,1)" font-size="16" text-anchor="end">0.4</text>
<text transform="translate(428.90,75.15) scale(1.07,1)" font-size="16" text-anchor="end">0.5</text>
<text transform="translate(428.90,43.72) scale(1.07,1)" font-size="16" text-anchor="end">0.6</text>
<text transform="translate(436.00,246.80) scale(1.07,1)" font-size="16" text-anchor="middle">0</text>
<text transform="translate(482.70,246.80) scale(1.07,1)" font-size="16" text-anchor="middle">20</text>
<text transform="translate(529.40,246.80) scale(1.07,1)" font-size="16" text-anchor="middle">40</text>
<text transform="translate(576.10,246.80) scale(1.07,1)" font-size="16" text-anchor="middle">60</text>
<text transform="translate(622.80,246.80) scale(1.07,1)" font-size="16" text-anchor="middle">80</text>
<text transform="translate(669.50,246.80) scale(1.07,1)" font-size="16" text-anchor="middle">100</text>
<text transform="translate(551.60,266.40) scale(1.0,1)" font-size="21.4" text-anchor="middle">Absorption [%]</text>
<text transform="translate(385.2,152.3) rotate(-90) scale(1.06,1)" font-size="20.8"><tspan x="0">A</tspan><tspan x="17" dy="7.3" font-size="12">0</tspan><tspan x="22.8" dy="-7.3">,</tspan><tspan x="31.0">B</tspan><tspan x="45.1" dy="7.3" font-size="12">0</tspan></text>
<text transform="translate(368.00,17.50) scale(1.08,1)" font-size="21.3" text-anchor="start">b)</text>
<ellipse cx="462.8" cy="42.9" rx="5.0" ry="4.8" fill="#ff0a0a"/>
<polygon points="456.7,66.9 462.8,61.0 468.9,66.9 462.8,72.8" fill="#0000ff"/>
<text transform="translate(476.6,49.9) scale(1.0,1)" font-size="15">A<tspan font-size="9.5" dy="3">0</tspan></text>
<text transform="translate(476.8,72.7) scale(1.0,1)" font-size="15">B<tspan font-size="9.5" dy="3">0</tspan><tspan dy="-3"> X 100</tspan></text>
<text transform="translate(476.20,211.90) scale(1.0,1)" font-size="13.4" text-anchor="start">Al</text>
<text transform="translate(536.00,179.30) scale(1.0,1)" font-size="12.9" text-anchor="start">No. 1</text>
<text transform="translate(569.50,159.40) scale(1.0,1)" font-size="12.9" text-anchor="start">No. 2</text>
<text transform="translate(608.00,141.40) scale(1.0,1)" font-size="12.9" text-anchor="start">No. 3</text>
<text transform="translate(646.60,125.90) scale(1.0,1)" font-size="12.9" text-anchor="start">No. 4</text>
</svg></body></html>
